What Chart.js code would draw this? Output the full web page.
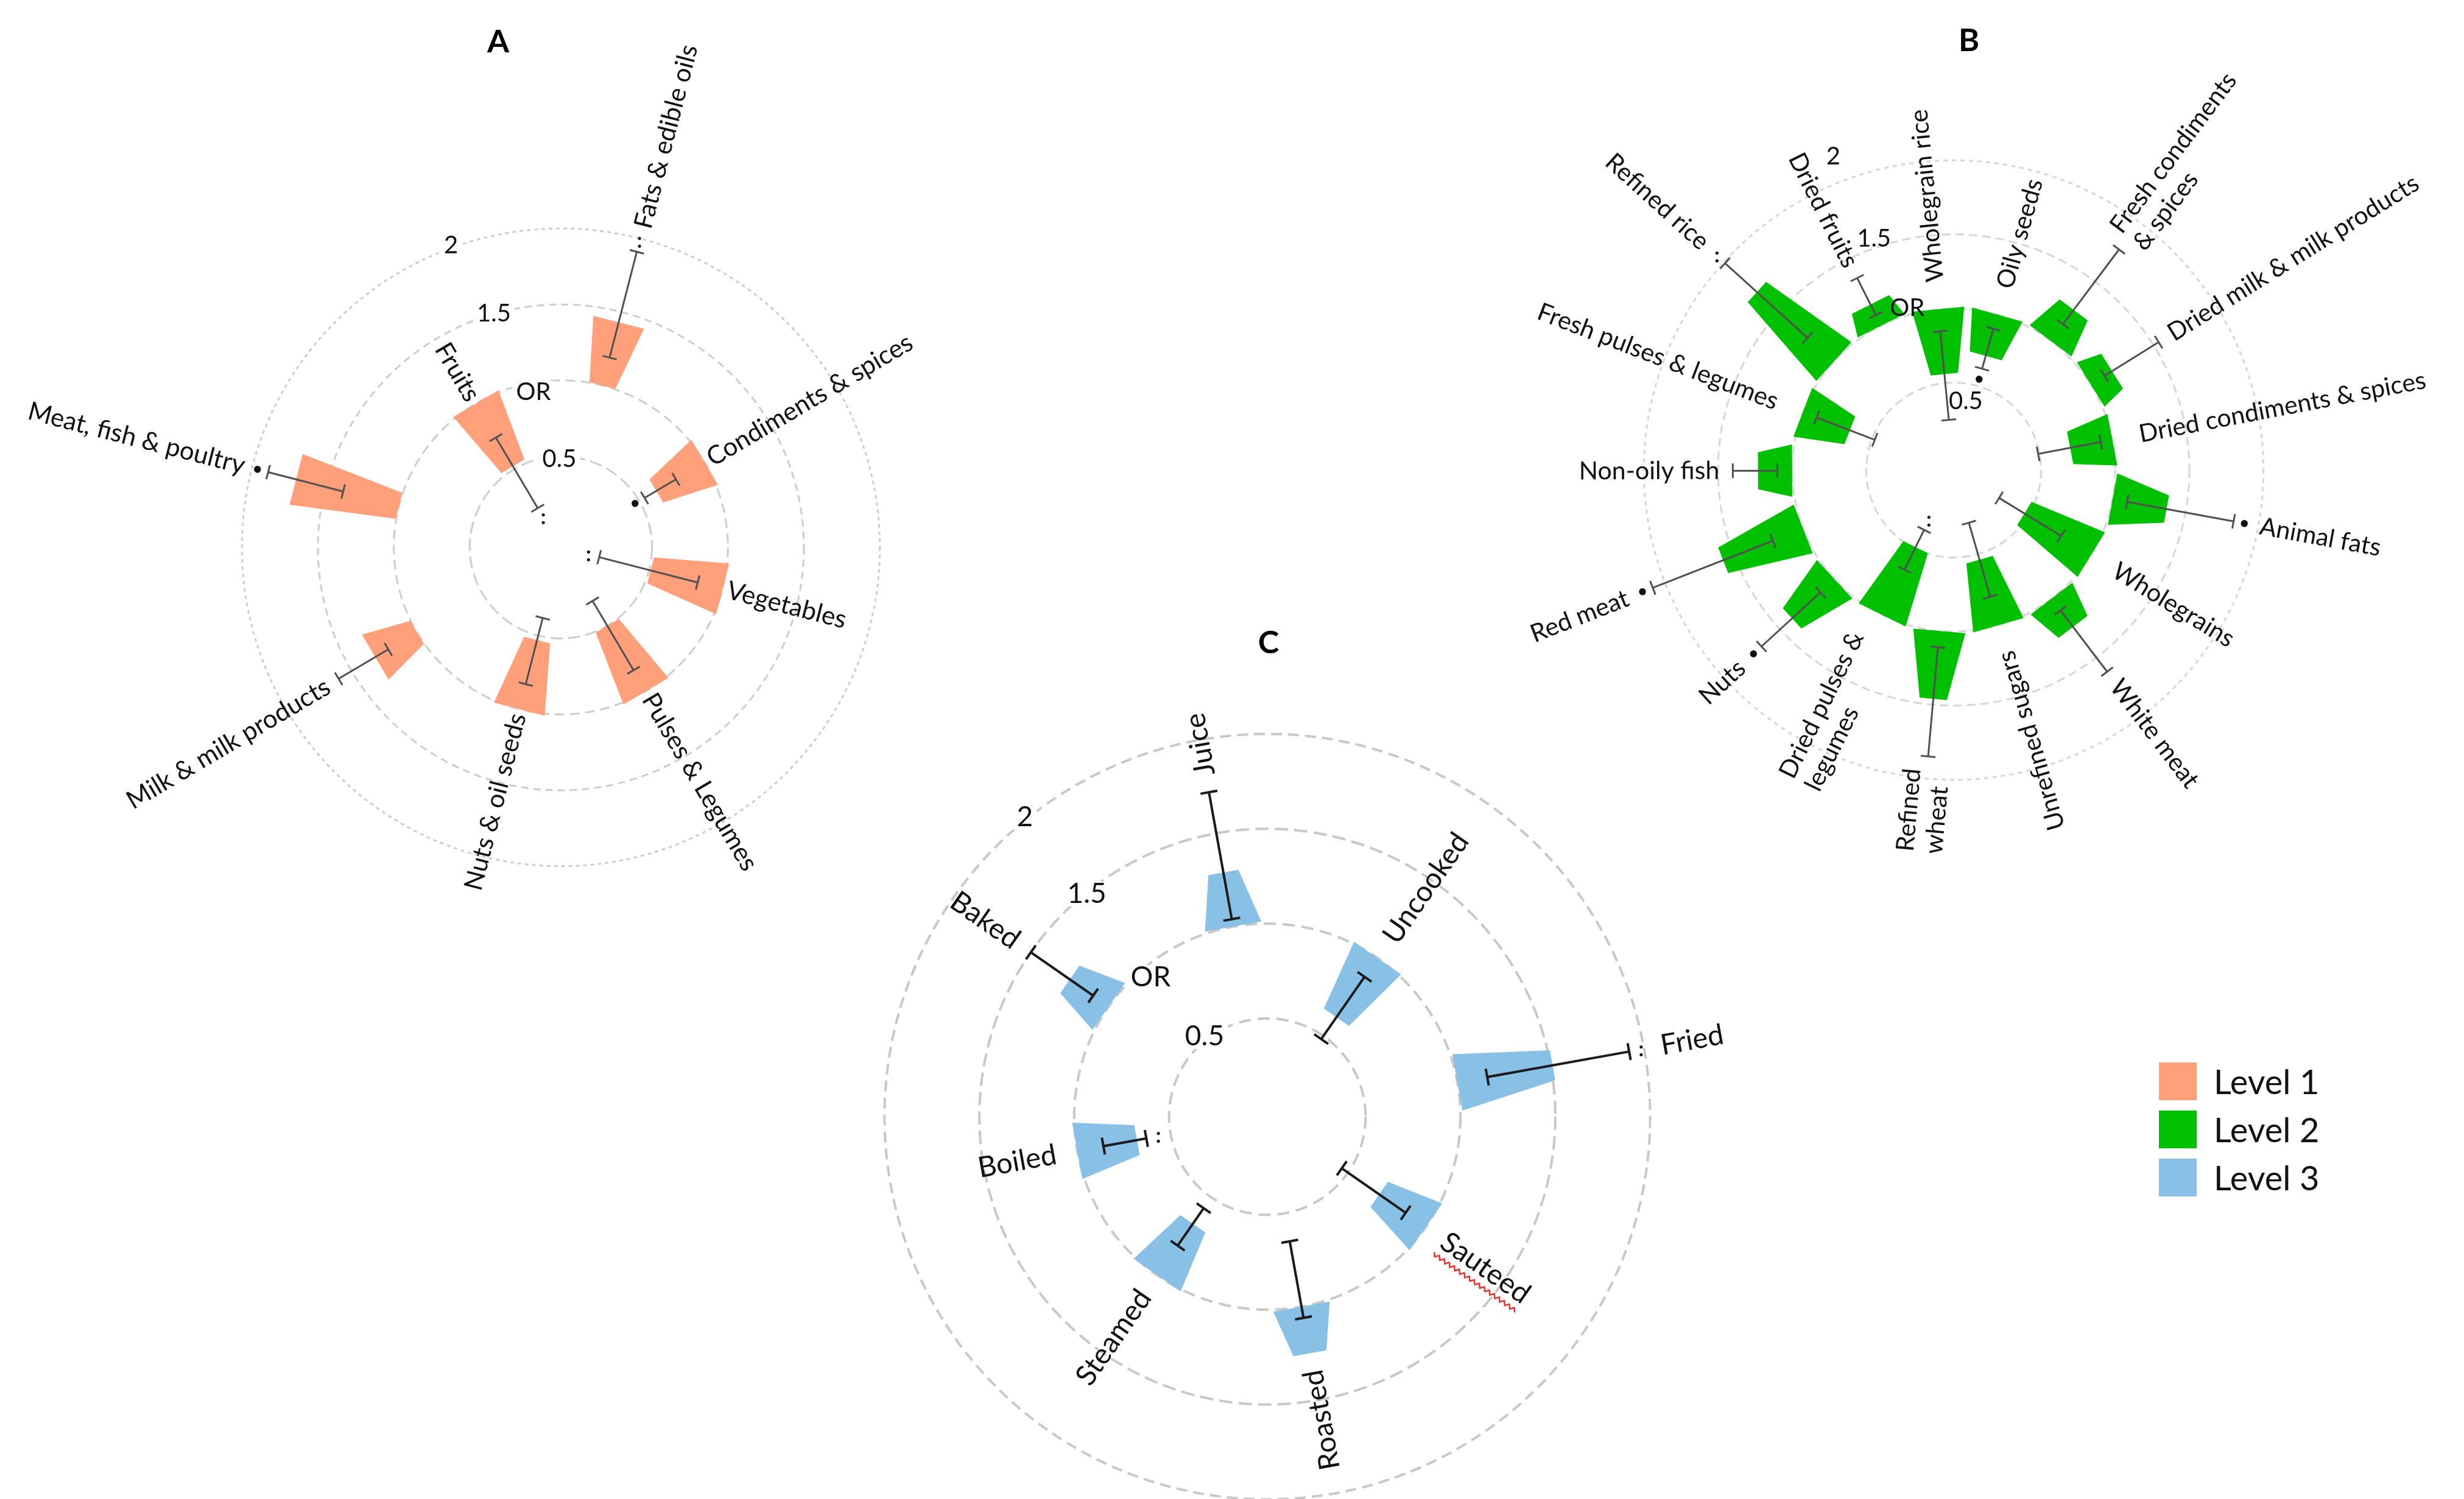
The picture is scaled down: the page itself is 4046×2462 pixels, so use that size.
<!DOCTYPE html>
<html>
<head>
<meta charset="utf-8">
<title>Odds ratios by food group</title>
<script src="https://cdn.jsdelivr.net/npm/chart.js@4.4.1/dist/chart.umd.min.js"></script>
<style>
  html, body { margin: 0; padding: 0; background: #fff; }
  body { width: 4046px; height: 2462px; position: relative; overflow: hidden; font-family: Lato, "Open Sans", sans-serif; }
  canvas { position: absolute; }
  #legend { position: absolute; left: 3545px; top: 1745px; }
  .item { display: flex; align-items: center; height: 62px; margin-bottom: 17px; }
  .sw { width: 62px; height: 62px; margin-right: 28px; }
  .item span { font-size: 56px; color: #111; line-height: 62px; }
</style>
</head>
<body>
<canvas id="chartA" width="1840" height="1840" style="left:1px;top:-21px;"></canvas>
<canvas id="chartB" width="1900" height="1900" style="left:2258px;top:-178px;"></canvas>
<canvas id="chartC" width="1600" height="1600" style="left:1281px;top:1034px;"></canvas>
<div id="legend"></div>

<script>
// ===============================================
// DATA - PANEL A (Level 1)
// ===============================================
const aCategories = ["Fats & edible oils", "Condiments & spices", "Vegetables", "Pulses & Legumes",
                     "Nuts & oil seeds", "Milk & milk products", "Meat, fish & poultry", "Fruits"];
const aOR   = [1.43, 0.63, 0.51, 0.50, 0.53, 1.32, 1.70, 0.52];
const aLow  = [1.19, 0.54, 0.16, 0.31, 0.38, 1.22, 1.38, 0.20];
const aHigh = [1.91, 0.78, 0.83, 0.84, 0.83, 1.60, 1.89, 0.74];
const aSig  = ["**", "*", "**", "", "", "", "*", "**"];

// ===============================================
// DATA - PANEL B (Level 2)
// ===============================================
const bCategories = ["Wholegrain rice", "Oily seeds", "Fresh condiments\n& spices", "Dried milk & milk products",
                     "Dried condiments & spices", "Animal fats", "Wholegrains", "White meat", "Unrefined sugars",
                     "Refined\nwheat", "Dried pulses &\nlegumes", "Nuts", "Red meat", "Non-oily fish",
                     "Fresh pulses & legumes", "Refined rice", "Dried fruits"];
const bOR   = [0.56, 0.71, 1.26, 1.17, 0.71, 1.37, 0.47, 1.24, 0.54, 1.46, 0.49, 1.39, 1.58, 1.23, 0.66, 1.70, 1.16];
const bLow  = [0.25, 0.62, 1.14, 1.11, 0.49, 1.10, 0.27, 1.10, 0.28, 1.11, 0.36, 1.13, 1.22, 1.10, 0.48, 1.24, 1.08];
const bHigh = [0.85, 0.90, 1.77, 1.54, 0.92, 1.83, 0.76, 1.62, 0.80, 1.85, 0.66, 1.67, 2.09, 1.40, 0.90, 1.99, 1.36];
const bSig  = ["", "*", "", "", "", "*", "", "", "", "", "**", "*", "*", "", "", "**", ""];

// ===============================================
// DATA - PANEL C (Level 3)
// ===============================================
const cCategories = ["Juice", "Uncooked", "Fried", "Sauteed", "Roasted", "Steamed", "Boiled", "Baked"];
const cOR   = [1.29, 0.62, 1.51, 0.70, 1.25, 0.67, 0.68, 1.25];
const cLow  = [1.04, 0.48, 1.16, 0.46, 0.65, 0.57, 0.63, 1.10];
const cHigh = [1.72, 0.88, 1.92, 0.87, 1.06, 0.81, 0.86, 1.50];
const cSig  = ["", "", "**", "", "", "", "**", ""];

// radial axis rings + legend
const tickValues = [0.5, 1, 1.5, 2];
const tickLabels = ["0.5", "OR", "1.5", "2"];
const levelNames = ["Level 1", "Level 2", "Level 3"];

const palette = { level1: "#ffa07a", level2: "#00c000", level3: "#89c0e6", text: "#111" };
const FONT = "Lato, 'Open Sans', sans-serif";

// ===============================================
// PANEL STYLES
// ===============================================
const panels = [
  {
    canvas: "chartA", title: "A", labels: aCategories, or: aOR, lo: aLow, hi: aHigh, sig: aSig,
    color: palette.level1, startAngle: 14.4, min: -0.1, pxPerUnit: 249.4,
    ringColor: "#cdcdcd", ringWidth: 3, ringDash: [[20, 9], [16, 9], [12, 8], [6, 6]],
    taper: "outer", wideW: 86, narrowW: 44, taperRate: 0,
    ciColor: "#505050", ciWidth: 3, capW: 24,
    starGap: 18, starRoom: 20, gapRing: 8, gapCI: 20, labelSize: 42, tickSize: 40,
    tickAngles: [359, 350, 344, 340], tickNudge: [-5, -15, 0, 4], tickBackdrop: true,
    titleDX: -103, titleDY: -830
  },
  {
    canvas: "chartB", title: "B", labels: bCategories, or: bOR, lo: bLow, hi: bHigh, sig: bSig,
    color: palette.level2, startAngle: -5.5, min: -0.09, pxPerUnit: 243.4,
    ringColor: "#d6d6d6", ringWidth: 3, ringDash: [[14, 8], [14, 8], [14, 8], [7, 7]],
    taper: "ring", wideW: 86, narrowW: 45, taperRate: 0.45,
    ciColor: "#505050", ciWidth: 3, capW: 24,
    starGap: 18, starRoom: 22, gapRing: 45, gapCI: 22, labelSize: 41, tickSize: 40,
    tickAngles: [10, 344, 341, 339], tickNudge: [-29, 11, 15, 43], tickBackdrop: false,
    titleDX: 25, titleDY: -705
  },
  {
    canvas: "chartC", title: "C", labels: cCategories, or: cOR, lo: cLow, hi: cHigh, sig: cSig,
    color: palette.level3, startAngle: -10.2, min: -0.018, pxPerUnit: 311.5,
    ringColor: "#c8c8c8", ringWidth: 4, ringDash: [[20, 11], [20, 11], [22, 10], [18, 10]],
    taper: "ring", wideW: 94, narrowW: 50, taperRate: 0.5,
    ciColor: "#1a1a1a", ciWidth: 4, capW: 28,
    starGap: 20, starRoom: 25, gapRing: 35, gapCI: 28, labelSize: 47, tickSize: 46,
    tickAngles: [322, 320, 321, 321], tickNudge: [6, -19, -2, 4], tickBackdrop: true,
    titleDX: 2, titleDY: -778, squiggle: "Sauteed"
  }
];

// ===============================================
// PLUGIN: RINGS, WEDGES, CI, LABELS
// ===============================================
function radialBarPlugin(p) {
  return {
    id: "radialBars",
    beforeDatasetsDraw(chart) {
      const ctx = chart.ctx;
      const sc = chart.scales.r;
      ctx.save();
      ctx.strokeStyle = p.ringColor;
      ctx.lineWidth = p.ringWidth;
      tickValues.forEach((v, j) => {
        ctx.setLineDash(p.ringDash[j]);
        ctx.beginPath();
        ctx.arc(sc.xCenter, sc.yCenter, sc.getDistanceFromCenterForValue(v), 0, Math.PI * 2);
        ctx.stroke();
      });
      ctx.restore();
    },
    afterDatasetsDraw(chart) {
      const ctx = chart.ctx;
      const sc = chart.scales.r;
      const dist = v => sc.getDistanceFromCenterForValue(v);
      const rRing = dist(1);

      // point at radius r along category i, shifted sideways by off
      const pt = (i, r, off) => {
        const a = sc.getIndexAngle(i) - Math.PI / 2;
        return [sc.xCenter + Math.cos(a) * r - Math.sin(a) * off,
                sc.yCenter + Math.sin(a) * r + Math.cos(a) * off];
      };

      ctx.save();

      // wedges (from OR = 1 to the odds ratio)
      p.or.forEach((v, i) => {
        const rVal = dist(v);
        let wRing, wVal;
        if (p.taper === "outer") {
          wRing = rVal > rRing ? p.narrowW : p.wideW;
          wVal = rVal > rRing ? p.wideW : p.narrowW;
        } else {
          wRing = p.wideW;
          wVal = Math.max(p.narrowW, p.wideW - p.taperRate * Math.abs(rVal - rRing));
        }
        const c = [pt(i, rRing, -wRing / 2), pt(i, rRing, wRing / 2), pt(i, rVal, wVal / 2), pt(i, rVal, -wVal / 2)];
        ctx.fillStyle = p.color;
        ctx.beginPath();
        ctx.moveTo(c[0][0], c[0][1]);
        for (let k = 1; k < 4; k++) ctx.lineTo(c[k][0], c[k][1]);
        ctx.closePath();
        ctx.fill();
      });

      // confidence intervals
      ctx.strokeStyle = p.ciColor;
      ctx.lineWidth = p.ciWidth;
      ctx.setLineDash([]);
      p.or.forEach((v, i) => {
        const r0 = dist(p.lo[i]), r1 = dist(p.hi[i]);
        const a = pt(i, r0, 0), b = pt(i, r1, 0);
        ctx.beginPath();
        ctx.moveTo(a[0], a[1]);
        ctx.lineTo(b[0], b[1]);
        [r0, r1].forEach(r => {
          const e1 = pt(i, r, -p.capW / 2), e2 = pt(i, r, p.capW / 2);
          ctx.moveTo(e1[0], e1[1]);
          ctx.lineTo(e2[0], e2[1]);
        });
        ctx.stroke();
      });

      // significance marks
      ctx.fillStyle = palette.text;
      ctx.textAlign = "center";
      ctx.textBaseline = "middle";
      p.sig.forEach((s, i) => {
        if (!s) return;
        const r = p.or[i] > 1 ? dist(p.hi[i]) + p.starGap : dist(p.lo[i]) - p.starGap;
        const q = pt(i, r, 0);
        ctx.font = s === "**" ? `bold 34px ${FONT}` : `bold 26px ${FONT}`;
        ctx.fillText(s === "**" ? ":" : "\u2022", q[0], q[1]);
      });

      // category labels, rotated along their ray
      ctx.font = `${p.labelSize}px ${FONT}`;
      const lh = p.labelSize * 1.15;
      p.labels.forEach((lab, i) => {
        const ang = sc.getIndexAngle(i);
        const deg = ang * 180 / Math.PI;
        const flip = deg > 160 && deg < 345;
        const top = Math.max(1, p.or[i], p.hi[i]);
        let R = dist(top) + (top > 1 ? p.gapCI : p.gapRing);
        if (p.sig[i] && p.or[i] > 1) R += p.starRoom;
        const q = pt(i, R, 0);
        const lines = lab.split("\n");
        const maxW = Math.max(...lines.map(l => ctx.measureText(l).width));
        ctx.save();
        ctx.translate(q[0], q[1]);
        ctx.rotate(flip ? ang - Math.PI / 2 + Math.PI : ang - Math.PI / 2);
        ctx.textAlign = "left";
        ctx.textBaseline = "middle";
        lines.forEach((ln, k) => {
          const yy = (k - (lines.length - 1) / 2) * lh;
          const x0 = flip ? -maxW : 0;
          ctx.fillStyle = palette.text;
          ctx.fillText(ln, x0, yy);
          if (p.squiggle && ln === p.squiggle) {
            const w = ctx.measureText(ln).width;
            ctx.strokeStyle = "#e8302a";
            ctx.lineWidth = 2.5;
            ctx.beginPath();
            for (let x = 0, n = 0; x <= w; x += 5, n++) {
              const y = yy + p.labelSize * 0.62 + (n % 2 ? 3 : -3);
              if (n === 0) ctx.moveTo(x0 + x, y); else ctx.lineTo(x0 + x, y);
            }
            ctx.stroke();
          }
        });
        ctx.restore();
      });

      // radial tick labels (0.5, OR, 1.5, 2)
      ctx.font = `${p.tickSize}px ${FONT}`;
      ctx.textAlign = "center";
      ctx.textBaseline = "middle";
      tickValues.forEach((v, j) => {
        const a = p.tickAngles[j] * Math.PI / 180 - Math.PI / 2;
        const r = dist(v) + p.tickNudge[j];
        const x = sc.xCenter + Math.cos(a) * r, y = sc.yCenter + Math.sin(a) * r;
        const w = ctx.measureText(tickLabels[j]).width;
        if (p.tickBackdrop) {
          ctx.fillStyle = "#fff";
          ctx.fillRect(x - w / 2 - 6, y - p.tickSize * 0.45, w + 12, p.tickSize * 0.9);
        }
        ctx.fillStyle = palette.text;
        ctx.fillText(tickLabels[j], x, y);
      });

      // panel letter
      ctx.font = `bold 52px ${FONT}`;
      ctx.fillStyle = "#000";
      ctx.fillText(p.title, sc.xCenter + p.titleDX, sc.yCenter + p.titleDY);

      ctx.restore();
    }
  };
}

// ===============================================
// BUILD CHARTS
// ===============================================
function buildPanel(p) {
  const el = document.getElementById(p.canvas);
  const half = el.width / 2;
  new Chart(el, {
    type: "radar",
    data: {
      labels: p.labels,
      datasets: [{
        data: p.or, showLine: false, pointRadius: 0, pointHoverRadius: 0,
        borderWidth: 0, backgroundColor: "rgba(0,0,0,0)", fill: false
      }]
    },
    options: {
      responsive: false,
      animation: false,
      devicePixelRatio: 1,
      events: [],
      layout: { padding: 0 },
      plugins: { legend: { display: false }, tooltip: { enabled: false }, title: { display: false } },
      scales: {
        r: {
          min: p.min,
          max: p.min + half / p.pxPerUnit,
          startAngle: p.startAngle,
          grid: { display: false },
          angleLines: { display: false },
          ticks: { display: false },
          pointLabels: { display: false }
        }
      }
    },
    plugins: [radialBarPlugin(p)]
  });
}

panels.forEach(buildPanel);

// ===============================================
// LEGEND
// ===============================================
const legendColors = [palette.level1, palette.level2, palette.level3];
const legend = document.getElementById("legend");
levelNames.forEach((name, i) => {
  const row = document.createElement("div");
  row.className = "item";
  row.innerHTML = `<div class="sw" style="background:${legendColors[i]}"></div><span>${name}</span>`;
  legend.appendChild(row);
});
</script>
</body>
</html>
